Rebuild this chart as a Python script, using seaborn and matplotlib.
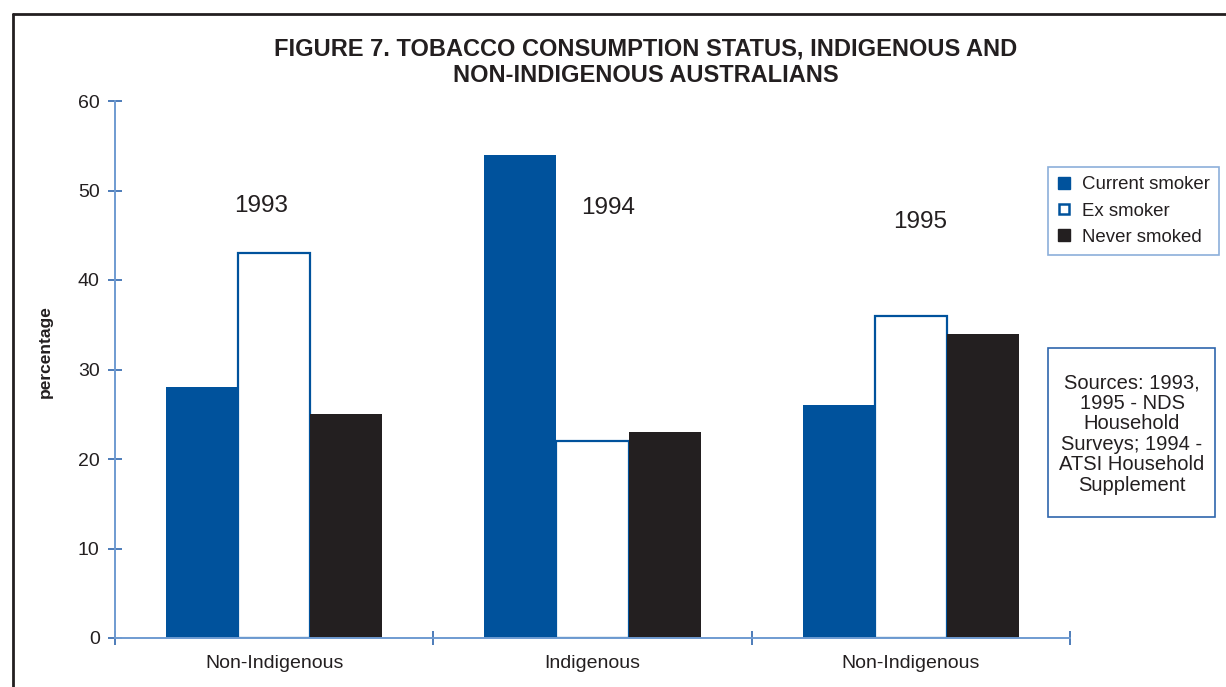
import matplotlib
matplotlib.use("Agg")
import matplotlib.pyplot as plt
from matplotlib.lines import Line2D
from matplotlib.patches import Rectangle
import seaborn as sns
import pandas as pd

# Survey groups and smoking status shares (%)
groups = ["Non-Indigenous", "Indigenous", "Non-Indigenous "]
years = ["1993", "1994", "1995"]
statuses = ["Current smoker", "Ex smoker", "Never smoked"]
current_smoker = [28, 54, 26]
ex_smoker = [43, 22, 36]
never_smoked = [25, 23, 34]
year_label_y = [48.3, 48.0, 46.5]
year_label_dx = [-0.04, 0.05, 0.03]

BLUE = "#00529c"
DARK = "#231f20"
SPINE = "#6f9bd1"
TICK = "#2f66ad"

rows = []
for status, vals in zip(statuses, [current_smoker, ex_smoker, never_smoked]):
    for g, v in zip(groups, vals):
        rows.append({"group": g, "status": status, "value": v})
df = pd.DataFrame(rows)

sns.set_theme(style="white")
plt.rcParams["font.family"] = ["Liberation Sans", "DejaVu Sans"]

fig = plt.figure(figsize=(12.26, 6.87), dpi=100)
ax = fig.add_axes([115 / 1226, 1 - 638 / 687, (1070 - 115) / 1226, (638 - 101) / 687])

sns.barplot(data=df, x="group", y="value", hue="status", order=groups,
            hue_order=statuses, palette=[BLUE, "white", DARK], width=0.68,
            gap=0, saturation=1, legend=False, ax=ax)

# style each hue's bars
for container, status in zip(ax.containers, statuses):
    for bar in container:
        if status == "Ex smoker":
            bar.set_facecolor("white")
            bar.set_edgecolor(BLUE)
            bar.set_linewidth(1.6)
        else:
            bar.set_edgecolor("none")
            bar.set_linewidth(0)

ax.set_xlim(-0.5, 2.5)
ax.set_ylim(0, 60)
ax.set_yticks(range(0, 61, 10))
ax.set_xticks([-0.5, 0.5, 1.5, 2.5], minor=False)
ax.set_xticklabels([])
ax.set_xticks([0, 1, 2], minor=True)
ax.set_xticklabels(["Non-Indigenous", "Indigenous", "Non-Indigenous"], minor=True)
ax.tick_params(axis="x", which="minor", bottom=True, length=0, pad=12, labelsize=14, labelcolor=DARK)
ax.tick_params(axis="x", which="major", bottom=True, direction="inout", length=10, width=1.2, color=TICK)
ax.tick_params(axis="y", left=True, direction="inout", length=10, width=1.2, color=TICK,
               labelsize=14, labelcolor=DARK, pad=6)
ax.set_xlabel("")
ax.set_ylabel("")

for side in ["top", "right"]:
    ax.spines[side].set_visible(False)
for side in ["left", "bottom"]:
    ax.spines[side].set_color(SPINE)
    ax.spines[side].set_linewidth(1.4)

for i, (yr, yy, dx) in enumerate(zip(years, year_label_y, year_label_dx)):
    ax.text(i + dx, yy, yr, ha="center", va="center", fontsize=17.5, color=DARK)

fig.text(45 / 1226, 1 - 352 / 687, "percentage", rotation=90, ha="center", va="center",
         fontsize=12.5, fontweight="bold", color=DARK)

fig.text(646 / 1226, 1 - 62 / 687,
         "FIGURE 7. TOBACCO CONSUMPTION STATUS, INDIGENOUS AND\nNON-INDIGENOUS AUSTRALIANS",
         ha="center", va="center", fontsize=17, fontweight="bold", color=DARK,
         linespacing=1.17)

# legend
handles = [
    Line2D([], [], marker="s", linestyle="none", markersize=8, markerfacecolor=BLUE, markeredgecolor=BLUE),
    Line2D([], [], marker="s", linestyle="none", markersize=7, markerfacecolor="white",
           markeredgecolor=BLUE, markeredgewidth=1.8),
    Line2D([], [], marker="s", linestyle="none", markersize=8, markerfacecolor=DARK, markeredgecolor=DARK),
]
leg = fig.legend(handles, statuses, loc="upper left",
                 bbox_to_anchor=(1048 / 1226, 1 - 167 / 687), fontsize=13.4,
                 frameon=True, fancybox=False, handlelength=0.7, handletextpad=0.6,
                 labelspacing=0.5, borderpad=0.5, borderaxespad=0)
leg.get_frame().set_edgecolor(SPINE)
leg.get_frame().set_linewidth(1.2)
for t in leg.get_texts():
    t.set_color(DARK)

# sources box
fig.add_artist(Rectangle((1048 / 1226, 1 - 517 / 687), (1215 - 1048) / 1226, (517 - 348) / 687,
                         transform=fig.transFigure, facecolor="white", edgecolor=TICK, linewidth=1.2))
fig.text(1132 / 1226, 1 - 434 / 687,
         "Sources: 1993,\n1995 - NDS\nHousehold\nSurveys; 1994 -\nATSI Household\nSupplement",
         ha="center", va="center", fontsize=14.5, color=DARK, linespacing=1.1)

# page frame
fig.add_artist(Line2D([13 / 1226, 1], [1 - 14 / 687, 1 - 14 / 687], transform=fig.transFigure,
                      color=DARK, linewidth=2))
fig.add_artist(Line2D([13 / 1226, 13 / 1226], [0, 1 - 14 / 687], transform=fig.transFigure,
                      color=DARK, linewidth=2))

fig.savefig("out.png", dpi=100, facecolor="white")
